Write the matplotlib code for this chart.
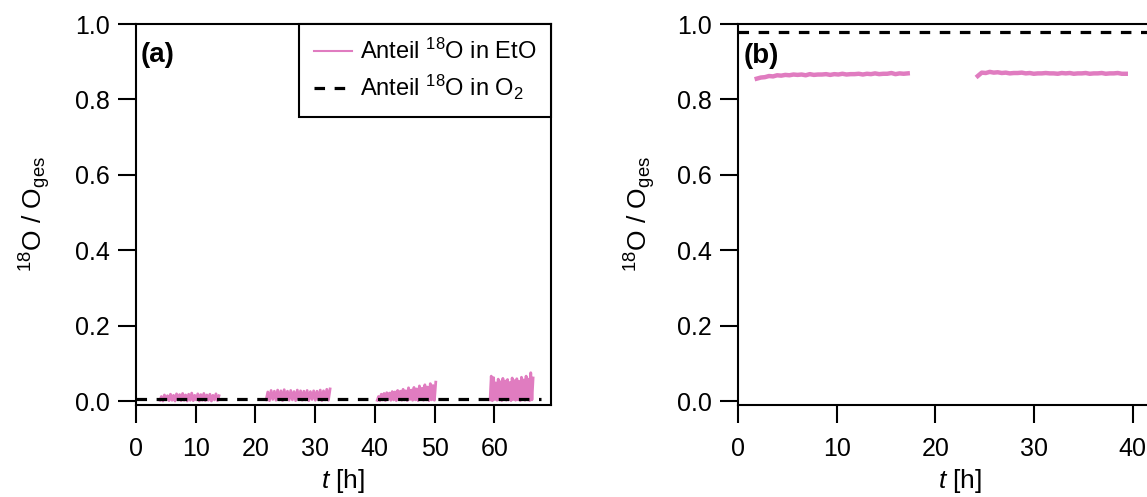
import matplotlib
matplotlib.use("Agg")
import matplotlib.pyplot as plt
import numpy as np

plt.rcParams['font.family'] = ['Liberation Sans', 'DejaVu Sans']
plt.rcParams['mathtext.fontset'] = 'custom'
plt.rcParams['mathtext.rm'] = 'Liberation Sans'
plt.rcParams['mathtext.it'] = 'Liberation Sans:italic'
plt.rcParams['mathtext.bf'] = 'Liberation Sans:bold'

pink = '#E07CC0'

# panel (a): 18O share in EtO, four measurement blocks (start, end in h)
a_ranges = [(4.0, 13.9), (21.8, 32.5), (40.4, 50.2), (59.3, 66.5)]
a_seg1 = [0.002, 0.012, 0.000, 0.016, 0.003, 0.014, 0.001, 0.018, 0.002, 0.015,
          0.000, 0.019, 0.003, 0.017, 0.001, 0.020, 0.002, 0.016, 0.000, 0.018,
          0.002, 0.021, 0.001, 0.015, 0.003, 0.019, 0.000, 0.017, 0.002, 0.020,
          0.001, 0.016, 0.002, 0.018, 0.000, 0.015, 0.003, 0.019, 0.001, 0.014]
a_seg2 = [0.003, 0.024, 0.001, 0.028, 0.004, 0.026, 0.002, 0.029, 0.003, 0.027,
          0.001, 0.030, 0.004, 0.026, 0.002, 0.028, 0.003, 0.025, 0.001, 0.029,
          0.004, 0.027, 0.002, 0.026, 0.003, 0.028, 0.001, 0.025, 0.004, 0.027,
          0.002, 0.026, 0.003, 0.029, 0.001, 0.027, 0.003, 0.031, 0.002, 0.032]
a_seg3 = [0.002, 0.012, 0.001, 0.018, 0.003, 0.020, 0.001, 0.022, 0.004, 0.021,
          0.002, 0.025, 0.003, 0.024, 0.001, 0.028, 0.004, 0.026, 0.002, 0.031,
          0.003, 0.027, 0.001, 0.035, 0.004, 0.029, 0.002, 0.036, 0.003, 0.032,
          0.001, 0.040, 0.004, 0.034, 0.002, 0.043, 0.003, 0.037, 0.001, 0.046,
          0.003, 0.041, 0.002, 0.050]
a_seg4 = [0.003, 0.066, 0.001, 0.062, 0.004, 0.048, 0.002, 0.058, 0.003, 0.051,
          0.001, 0.060, 0.004, 0.053, 0.002, 0.057, 0.003, 0.049, 0.001, 0.061,
          0.004, 0.054, 0.002, 0.059, 0.003, 0.052, 0.001, 0.063, 0.004, 0.056,
          0.002, 0.066, 0.003, 0.058, 0.001, 0.075, 0.003, 0.061]
a_segs = [a_seg1, a_seg2, a_seg3, a_seg4]
a_o2_t = [0, 67.9]
a_o2 = [0.004, 0.004]

# panel (b)
b_ranges = [(1.9, 17.2), (24.3, 39.3)]
b_seg1 = [0.855, 0.858, 0.859, 0.862, 0.861, 0.864, 0.863, 0.865, 0.864, 0.866,
          0.865, 0.866, 0.864, 0.867, 0.865, 0.866, 0.866, 0.867, 0.865, 0.867,
          0.866, 0.868, 0.866, 0.867, 0.867, 0.868, 0.866, 0.868, 0.867, 0.869,
          0.867, 0.868, 0.868, 0.870, 0.867, 0.869, 0.868, 0.869]
b_seg2 = [0.862, 0.871, 0.870, 0.873, 0.871, 0.872, 0.870, 0.871, 0.869, 0.870,
          0.870, 0.871, 0.869, 0.870, 0.868, 0.869, 0.869, 0.870, 0.869, 0.869,
          0.868, 0.870, 0.869, 0.870, 0.868, 0.869, 0.869, 0.870, 0.868, 0.869,
          0.869, 0.870, 0.868, 0.869, 0.869, 0.870, 0.868, 0.868]
b_segs = [b_seg1, b_seg2]
b_o2_t = [0, 50]
b_o2 = [0.978, 0.978]

yticks = [0.0, 0.2, 0.4, 0.6, 0.8, 1.0]

fig = plt.figure(figsize=(11.47, 4.97), dpi=100)
ax1 = fig.add_axes([136/1147, 1-405/497, 415/1147, 381/497])
ax2 = fig.add_axes([738/1147, 1-405/497, 444/1147, 381/497])


def style(ax, xmax, xticks, lab_x):
    ax.set_xlim(0, xmax)
    ax.set_ylim(-0.0106, 1.0)
    ax.set_xticks(xticks)
    ax.set_yticks(yticks)
    ax.set_yticklabels(['%.1f' % v for v in yticks])
    for s in ax.spines.values():
        s.set_linewidth(1.5)
    ax.tick_params(direction='out', length=13, width=1.5, labelsize=18)
    ax.tick_params(axis='x', pad=10)
    ax.tick_params(axis='y', pad=6)
    ax.set_xlabel(r'$\mathit{t}$ [h]', fontsize=19)
    ax.set_ylabel(r'$^{18}$O / O$_{\mathrm{ges}}$', fontsize=19)
    ax.xaxis.set_label_coords(0.5, -0.163)
    ax.yaxis.set_label_coords(lab_x, 0.5)


style(ax1, 69.5, [0, 10, 20, 30, 40, 50, 60], -0.2)
style(ax2, 45, [0, 10, 20, 30, 40], -0.18)

for (t0, t1), vals in zip(a_ranges, a_segs):
    ax1.plot(np.linspace(t0, t1, len(vals)), vals, color=pink, lw=2.0,
             label='Anteil $^{18}$O in EtO' if t0 == a_ranges[0][0] else None)
ax1.plot(a_o2_t, a_o2, color='black', lw=2.3, dashes=(3.3, 3),
         label='Anteil $^{18}$O in O$_2$')

for (t0, t1), vals in zip(b_ranges, b_segs):
    ax2.plot(np.linspace(t0, t1, len(vals)), vals, color=pink, lw=3.2)
ax2.plot(b_o2_t, b_o2, color='black', lw=2.3, dashes=(3.3, 3))

leg = ax1.legend(loc='upper right', bbox_to_anchor=(1, 1), borderaxespad=0,
                 fontsize=17, handlelength=1.6, handletextpad=0.35,
                 fancybox=False, framealpha=1, edgecolor='black',
                 borderpad=0.62, labelspacing=0.38)
leg.get_frame().set_linewidth(1.5)
for h in leg.get_lines():
    if h.get_color() == pink:
        h.set_linewidth(1.5)

ax1.text(0.012, 0.918, '(a)', transform=ax1.transAxes, fontsize=20,
         fontweight='bold', va='center', ha='left')
ax2.text(0.012, 0.916, '(b)', transform=ax2.transAxes, fontsize=20,
         fontweight='bold', va='center', ha='left')

fig.savefig('out.png', dpi=100)
